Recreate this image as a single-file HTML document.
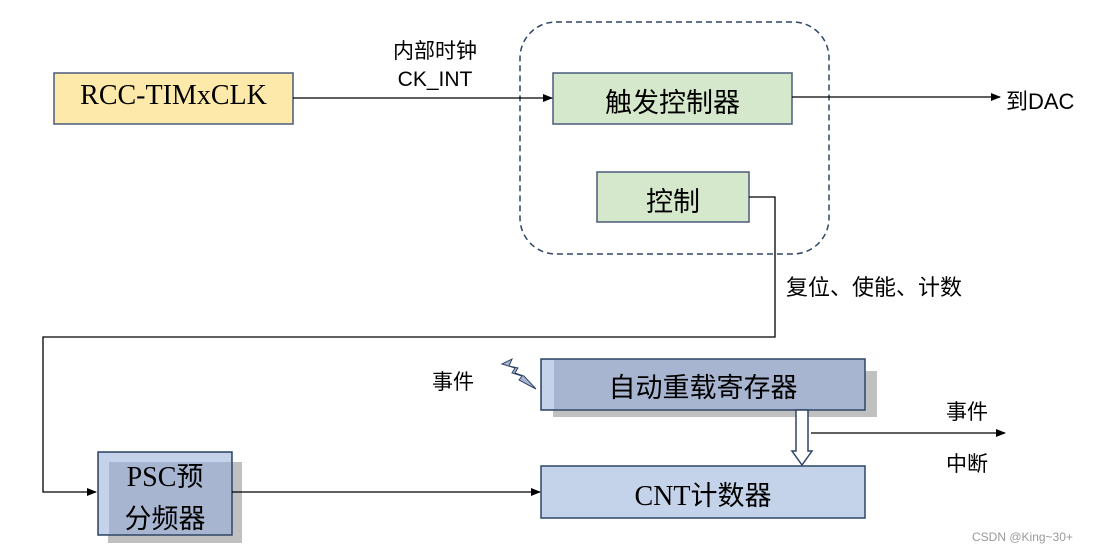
<!DOCTYPE html>
<html><head><meta charset="utf-8"><style>
body{margin:0;background:#fff;width:1098px;height:555px;overflow:hidden;position:relative;font-family:"Liberation Sans","Noto Sans CJK SC",sans-serif}
.t{position:absolute;white-space:nowrap;color:#000}
.s{font-family:"Liberation Serif","Noto Sans CJK SC",serif}
</style></head><body>
<svg width="1098" height="555" style="position:absolute;left:0;top:0">
<defs><marker id="a" markerWidth="10" markerHeight="8" refX="9" refY="4" orient="auto" markerUnits="userSpaceOnUse"><path d="M0,0 L10,4 L0,8 Z" fill="#000"/></marker></defs>
<rect x="520" y="22" width="309" height="232" rx="36" fill="none" stroke="#2f4566" stroke-width="1.5" stroke-dasharray="6,4"/>
<rect x="54" y="73" width="239" height="51" fill="#fde9aa" stroke="#4a5b7a" stroke-width="1.5"/>
<rect x="553" y="73" width="239" height="51" fill="#d6e8cb" stroke="#4a5b7a" stroke-width="1.5"/>
<rect x="597" y="172" width="152" height="50" fill="#d6e8cb" stroke="#4a5b7a" stroke-width="1.5"/>
<line x1="293" y1="98" x2="552" y2="98" stroke="#000" stroke-width="1.3" marker-end="url(#a)"/>
<line x1="792" y1="97" x2="1000" y2="97" stroke="#000" stroke-width="1.3" marker-end="url(#a)"/>
<polyline points="749,197 775,197 775,337 43,337 43,492 96,492" fill="none" stroke="#000" stroke-width="1.3" marker-end="url(#a)"/>
<rect x="553" y="371" width="324" height="46" fill="#c0c0c0"/>
<rect x="541" y="359" width="324" height="51" fill="#a7b5d0" stroke="#2f4566" stroke-width="1.5"/>
<rect x="542" y="360" width="12" height="49" fill="#c5d3ea"/>
<rect x="541" y="466" width="324" height="52" fill="#c5d3ea" stroke="#2f4566" stroke-width="1.5"/>
<rect x="108" y="462" width="134" height="81" fill="#c0c0c0"/>
<rect x="98" y="452" width="134" height="83" fill="#a7b5d0" stroke="#2f4566" stroke-width="1.5"/>
<rect x="99" y="453" width="10" height="81" fill="#c5d3ea"/>
<rect x="99" y="453" width="132" height="9" fill="#c5d3ea"/>
<line x1="232" y1="492" x2="540" y2="492" stroke="#000" stroke-width="1.3" marker-end="url(#a)"/>
<path d="M796,410 V451 H792 L802,465 L812,451 H808 V410 Z" fill="#fff" stroke="#2f4566" stroke-width="1.5"/>
<line x1="811" y1="433" x2="1005" y2="433" stroke="#000" stroke-width="1.3" marker-end="url(#a)"/>
<polygon points="502,364 512,359 509,366 518,368 515,373 524,376 536,389 519,380 522,376 512,373 515,368" fill="#a7b5d0" stroke="#2f4566" stroke-width="1"/>
</svg>
<div class="t s" style="left:54px;top:80px;width:239px;text-align:center;font-size:28px">RCC-TIMxCLK</div>
<div class="t" style="left:553px;top:81px;width:239px;text-align:center;font-size:27px">触发控制器</div>
<div class="t" style="left:597px;top:180px;width:152px;text-align:center;font-size:27px">控制</div>
<div class="t" style="left:380px;top:38px;width:110px;text-align:center;font-size:21px;line-height:28px">内部时钟<br>CK_INT</div>
<div class="t" style="left:1006px;top:84px;font-size:22px">到DAC</div>
<div class="t" style="left:786px;top:270px;font-size:22px">复位、使能、计数</div>
<div class="t" style="left:432px;top:366px;font-size:21px">事件</div>
<div class="t" style="left:541px;top:366px;width:324px;text-align:center;font-size:27px">自动重载寄存器</div>
<div class="t s" style="left:541px;top:474px;width:324px;text-align:center;font-size:28px">CNT<span style="font-family:'Noto Sans CJK SC',sans-serif;font-size:27px">计数器</span></div>
<div class="t s" style="left:98px;top:455px;width:134px;text-align:center;font-size:28px;line-height:39px">PSC<span style="font-family:'Noto Sans CJK SC',sans-serif;font-size:27px">预</span><br><span style="font-family:'Noto Sans CJK SC',sans-serif;font-size:27px">分频器</span></div>
<div class="t" style="left:946px;top:396px;font-size:21px">事件</div>
<div class="t" style="left:946px;top:448px;font-size:21px">中断</div>
<div class="t" style="left:972px;top:530px;font-size:12px;color:#999">CSDN @King~30+</div>
</body></html>
